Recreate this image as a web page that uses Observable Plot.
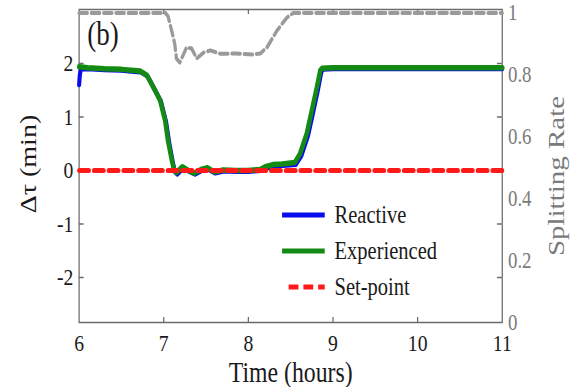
<!DOCTYPE html>
<html><head><meta charset="utf-8">
<script src="https://cdn.jsdelivr.net/npm/d3@7"></script>
<script src="https://cdn.jsdelivr.net/npm/@observablehq/plot@0.6"></script>
<style>body{margin:0;background:#fff;} #chart{width:574px;height:387px;overflow:hidden;}</style>
</head><body><div id="chart"></div>
<script>
// ---- data ----
const expHours  = [6.0, 6.1, 6.3, 6.5, 6.65, 6.72, 6.80, 6.875, 6.957, 7.017, 7.05, 7.096, 7.123, 7.15, 7.22, 7.29, 7.36, 7.44, 7.52, 7.60, 7.70, 7.85, 8.0, 8.14, 8.2, 8.29, 8.4, 8.55, 8.61, 8.69, 8.75, 8.81, 8.85, 8.87, 9.0, 10, 11];
const expValues = [1.94, 1.92, 1.90, 1.89, 1.87, 1.86, 1.78, 1.56, 1.31, 0.93, 0.56, 0.19, 0.0, -0.04, 0.07, 0.0, -0.05, 0.02, 0.05, -0.03, 0.01, 0.0, 0.0, 0.02, 0.07, 0.11, 0.12, 0.15, 0.31, 0.69, 1.12, 1.56, 1.87, 1.91, 1.92, 1.92, 1.92];
const reaHours  = [6.0, 6.008, 6.02, 6.1, 6.3, 6.5, 6.65, 6.73, 6.81, 6.885, 6.967, 7.027, 7.062, 7.105, 7.13, 7.16, 7.23, 7.30, 7.37, 7.45, 7.53, 7.61, 7.71, 7.86, 8.0, 8.15, 8.21, 8.30, 8.41, 8.56, 8.625, 8.705, 8.765, 8.825, 8.862, 8.88, 9.0, 10, 11];
const reaValues = [1.62, 1.80, 1.91, 1.92, 1.90, 1.89, 1.87, 1.86, 1.78, 1.56, 1.31, 0.93, 0.56, 0.19, 0.0, -0.05, 0.06, 0.0, -0.05, 0.02, 0.04, -0.03, 0.01, 0.0, 0.0, 0.02, 0.06, 0.10, 0.11, 0.13, 0.29, 0.67, 1.10, 1.55, 1.86, 1.91, 1.92, 1.92, 1.92];
const splitHours  = [6.0, 7.02, 7.05, 7.096, 7.13, 7.15, 7.19, 7.27, 7.33, 7.39, 7.47, 7.55, 7.67, 7.85, 8.06, 8.14, 8.22, 8.34, 8.455, 8.53, 11];
const splitValues = [1, 1, 0.99, 0.94, 0.90, 0.853, 0.84, 0.889, 0.885, 0.853, 0.872, 0.879, 0.868, 0.869, 0.866, 0.869, 0.889, 0.944, 0.985, 1, 1];
const setpointHours  = [6, 11];
const setpointValues = [0, 0];
const xTicks = [6, 7, 8, 9, 10, 11];
const yTicks = [-2, -1, 0, 1, 2];
const rTicks = [0, 0.2, 0.4, 0.6, 0.8, 1];
const legendLabels = ["Reactive", "Experienced", "Set-point"];
const xLabel = "Time (hours)";
const yLabel = "Δτ (min)";
const rLabel = "Splitting Rate";
const panelLabel = "(b)";

// ---- tables ----
const expData = expHours.map((h, i) => ({h, v: expValues[i]}));
const reaData = reaHours.map((h, i) => ({h, v: reaValues[i]}));
const splitData = splitHours.map((h, i) => ({h, r: splitValues[i]}));
const spData = setpointHours.map((h, i) => ({h, v: setpointValues[i]}));

// ---- geometry (logical units; squished horizontally afterwards) ----
const S = 0.82, W = 700, H = 387;
const ML = 96, MR = 88, MT = 9, MB = 65;
const PW = W - ML - MR, PH = H - MT - MB;
const yLo = -2.841, yHi = 3.009;
const rLo = -2.841, rSpan = 5.785;           // right axis 0..1 in left-axis units
const toL = r => rLo + r * rSpan;

const COLORS = {rea: "#0a0aee", exp: "#138a13", sp: "#ff1a1a", split: "#9a9a9a", axis: "#6a6a6a"};
const FONT = "'Liberation Serif', 'Times New Roman', serif";

const plot = Plot.plot({
  width: W, height: H,
  marginLeft: ML, marginRight: MR, marginTop: MT, marginBottom: MB,
  x: {domain: [6, 11], label: null},
  y: {domain: [yLo, yHi], label: null},
  style: {fontFamily: FONT, background: "white", color: "#1a1a1a"},
  marks: [
    Plot.frame({stroke: COLORS.axis, strokeWidth: 1.5}),
    // inward ticks (left & mirrored right)
    Plot.tickY(yTicks, {y: d => d, insetRight: PW - 6, stroke: COLORS.axis, strokeWidth: 1.5}),
    Plot.tickY(yTicks, {y: d => d, insetLeft: PW - 6, stroke: COLORS.axis, strokeWidth: 1.5}),
    Plot.tickX(xTicks.slice(1, -1), {x: d => d, insetTop: PH - 5, stroke: COLORS.axis, strokeWidth: 1.5}),
    Plot.tickX(xTicks.slice(1, -1), {x: d => d, insetBottom: PH - 5, stroke: COLORS.axis, strokeWidth: 1.5}),
    Plot.axisX({ticks: xTicks, tickSize: 0, tickPadding: 11, fontSize: 24, fill: "#1a1a1a", tickFormat: d => String(d)}),
    Plot.axisY({ticks: yTicks, tickSize: 0, tickPadding: 7, fontSize: 24, fill: "#1a1a1a", tickFormat: d => String(d)}),
    Plot.axisY({anchor: "right", ticks: rTicks.map(toL), tickSize: 0, tickPadding: 7, fontSize: 23, fill: "#7a7a7a",
      tickFormat: d => String(+((d - rLo) / rSpan).toFixed(1))}),
    // data
    Plot.line(splitData, {x: "h", y: d => toL(d.r), stroke: COLORS.split, strokeWidth: 4, strokeDasharray: "10,5"}),
    Plot.line(reaData, {x: "h", y: "v", stroke: COLORS.rea, strokeWidth: 5, dy: 1}),
    Plot.line(expData, {x: "h", y: "v", stroke: COLORS.exp, strokeWidth: 5.5}),
    Plot.line(spData, {x: "h", y: "v", stroke: COLORS.sp, strokeWidth: 5, strokeDasharray: "12,6"}),
    // labels
    Plot.text([yLabel], {text: d => d, frameAnchor: "left", textAnchor: "middle", lineAnchor: "middle", rotate: -90, dx: -62, dy: -2, fontSize: 28, fill: "#1a1a1a"}),
    Plot.text([rLabel], {text: d => d, frameAnchor: "right", textAnchor: "middle", lineAnchor: "middle", rotate: -90, dx: 66, dy: 10, fontSize: 29, fill: "#7a7a7a"}),
    Plot.text([xLabel], {text: d => d, frameAnchor: "bottom", textAnchor: "middle", lineAnchor: "bottom", dy: 59, fontSize: 29, fill: "#1a1a1a"}),
    Plot.text([panelLabel], {text: d => d, frameAnchor: "top-left", textAnchor: "start", lineAnchor: "bottom", dx: 10, dy: 35, fontSize: 33, fill: "#1a1a1a"})
  ]
});

// legend inside the plot area
const svg = d3.select(plot);
const lg = svg.append("g").attr("font-family", FONT).attr("font-size", 25).attr("text-anchor", "start");
const legendStyles = [
  {stroke: COLORS.rea, dash: null},
  {stroke: COLORS.exp, dash: null},
  {stroke: COLORS.sp, dash: "12,6"}
];
const rowY = [215, 251, 287];
legendLabels.forEach((lab, i) => {
  lg.append("line").attr("x1", i === 2 ? 352 : 344).attr("x2", 396).attr("y1", rowY[i]).attr("y2", rowY[i])
    .attr("stroke", legendStyles[i].stroke).attr("stroke-width", 5)
    .attr("stroke-dasharray", legendStyles[i].dash);
  lg.append("text").attr("x", 408).attr("y", rowY[i]).attr("dy", "0.32em").attr("text-anchor", "start")
    .attr("fill", "#1a1a1a").text(lab);
});

// squish horizontally like the reference image
plot.setAttribute("width", 574);
plot.setAttribute("height", 387);
plot.setAttribute("preserveAspectRatio", "none");
plot.style.width = "574px";
plot.style.height = "387px";
plot.style.maxWidth = "none";
document.getElementById("chart").appendChild(plot);
</script>
</body></html>
